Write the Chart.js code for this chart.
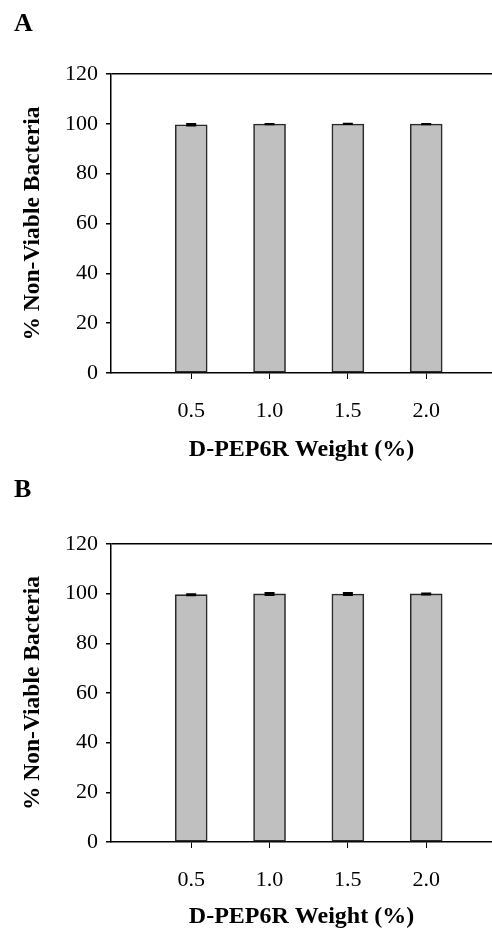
<!DOCTYPE html>
<html>
<head>
<meta charset="utf-8">
<script src="https://cdn.jsdelivr.net/npm/chart.js@4.4.0/dist/chart.umd.min.js"></script>
<style>
  html, body { margin: 0; padding: 0; background: #fff; }
  .panel { position: relative; width: 492px; }
  #wrapA { height: 466px; }
  #wrapB { height: 467px; }
</style>
</head>
<body>
<div class="panel" id="wrapA"><canvas id="chartA"></canvas></div>
<div class="panel" id="wrapB"><canvas id="chartB"></canvas></div>
<script>
// data
const weights = [0.5, 1.0, 1.5, 2.0];
const viableA = [99.6, 99.9, 99.95, 99.9];
const errA = [0.3, 0.05, 0.05, 0.05];
const viableB = [99.6, 99.9, 99.85, 99.9];
const errB = [0.2, 0.4, 0.4, 0.2];
const yTicks = [0, 20, 40, 60, 80, 100, 120];

const serif = "'Liberation Serif', 'Times New Roman', serif";

// little black error bars on top of each bar
const errorBars = {
  id: "errorBars",
  afterDatasetsDraw(chart) {
    const ctx = chart.ctx;
    const yScale = chart.scales.y;
    chart.data.datasets.forEach((ds, i) => {
      const meta = chart.getDatasetMeta(i);
      meta.data.forEach((bar, j) => {
        const v = ds.data[j].y;
        const e = ds.errors[j];
        const top = yScale.getPixelForValue(v + e);
        const bot = yScale.getPixelForValue(v - e);
        ctx.save();
        ctx.strokeStyle = "#000";
        ctx.lineWidth = 2;
        ctx.beginPath();
        ctx.moveTo(bar.x, top);
        ctx.lineTo(bar.x, bot);
        ctx.moveTo(bar.x - 5, top);
        ctx.lineTo(bar.x + 5, top);
        ctx.moveTo(bar.x - 5, bot);
        ctx.lineTo(bar.x + 5, bot);
        ctx.stroke();
        ctx.restore();
      });
    });
  },
};

function makeChart(id, letter, values, errors, plotTop, plotBottom, height) {
  const titleFont = 26 * 1.2;
  return new Chart(document.getElementById(id), {
    type: "bar",
    data: {
      datasets: [
        {
          data: weights.map((w, i) => ({ x: w, y: values[i] })),
          errors: errors,
          backgroundColor: "#c0c0c0",
          borderColor: "#2a2a2a",
          borderWidth: 1.6,
          borderSkipped: false,
          barThickness: 32,
        },
      ],
    },
    options: {
      responsive: true,
      maintainAspectRatio: false,
      animation: false,
      layout: { padding: { left: 14, right: 0, top: 0, bottom: 0 } },
      plugins: {
        legend: { display: false },
        tooltip: { enabled: false },
        title: {
          display: true,
          text: letter,
          align: "start",
          color: "#000",
          font: { family: serif, size: 26, weight: "bold" },
          padding: { top: 9, bottom: plotTop - 9 - titleFont },
        },
      },
      scales: {
        x: {
          type: "linear",
          min: -0.012,
          max: 2.42,
          offset: false,
          afterBuildTicks: (s) => {
            s.ticks = weights.map((w) => ({ value: w }));
          },
          afterFit: (s) => {
            s.height = height - plotBottom;
          },
          ticks: {
            color: "#000",
            font: { family: serif, size: 22 },
            padding: 19,
            callback: (v) => Number(v).toFixed(1),
          },
          grid: {
            offset: false,
            color: "transparent",
            tickColor: "#000",
            tickLength: 6,
            tickWidth: 1,
          },
          border: { display: true, color: "#000", width: 1.5 },
          title: {
            display: true,
            text: "D-PEP6R Weight (%)",
            color: "#000",
            font: { family: serif, size: 24, weight: "bold" },
            padding: { top: 0, bottom: 2 },
          },
        },
        y: {
          min: 0,
          max: 120,
          afterBuildTicks: (s) => {
            s.ticks = yTicks.map((v) => ({ value: v }));
          },
          afterFit: (s) => {
            s.width = 97;
          },
          ticks: {
            color: "#000",
            font: { family: serif, size: 22 },
            padding: 8,
          },
          grid: {
            color: (c) => (c.tick && c.tick.value === 120 ? "#000" : "transparent"),
            lineWidth: 1.5,
            tickColor: "#000",
            tickLength: 5,
          },
          border: { display: true, color: "#000", width: 1.5 },
          title: {
            display: true,
            text: "% Non-Viable Bacteria",
            color: "#000",
            font: { family: serif, size: 23.5, weight: "bold" },
            padding: { top: 5, bottom: 0 },
          },
        },
      },
    },
    plugins: [errorBars],
  });
}

makeChart("chartA", "A", viableA, errA, 74, 373, 466);
makeChart("chartB", "B", viableB, errB, 78, 376, 467);
</script>
</body>
</html>
